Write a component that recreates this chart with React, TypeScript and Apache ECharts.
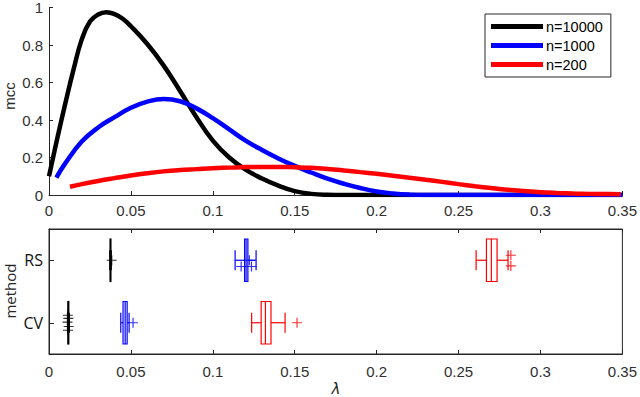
import React, { useEffect, useRef } from "react";
import * as echarts from "echarts";

// ---- data ----
const xTicks = [0, 0.05, 0.1, 0.15, 0.2, 0.25, 0.3, 0.35];
const seriesNames = ["n=10000", "n=1000", "n=200"];
const seriesColors = ["#000000", "#0000ff", "#ff0000"];

// mcc vs lambda curves [lambda, mcc]
const mcc10000 = [
  [0, 0.1], [0.005, 0.3], [0.01, 0.49], [0.015, 0.67], [0.02, 0.83], [0.025, 0.925],
  [0.03, 0.963], [0.035, 0.975], [0.04, 0.965], [0.045, 0.94], [0.05, 0.9], [0.06, 0.805],
  [0.07, 0.69], [0.08, 0.555], [0.09, 0.415], [0.1, 0.29], [0.11, 0.2], [0.12, 0.135],
  [0.13, 0.088], [0.14, 0.05], [0.15, 0.021], [0.16, 0.006], [0.17, 0.001], [0.18, 0],
  [0.22, 0], [0.28, 0], [0.35, 0],
];
const mcc1000 = [
  [0.0045, 0.093], [0.01, 0.17], [0.02, 0.285], [0.03, 0.36], [0.04, 0.415], [0.05, 0.465],
  [0.06, 0.498], [0.07, 0.512], [0.08, 0.5], [0.09, 0.462], [0.1, 0.41], [0.11, 0.35],
  [0.12, 0.29], [0.13, 0.24], [0.14, 0.195], [0.15, 0.155], [0.16, 0.12], [0.17, 0.087],
  [0.18, 0.06], [0.19, 0.037], [0.2, 0.019], [0.21, 0.008], [0.22, 0.002], [0.23, 0],
  [0.28, 0], [0.35, 0],
];
const mcc200 = [
  [0.0128, 0.044], [0.02, 0.058], [0.03, 0.075], [0.04, 0.09], [0.05, 0.104], [0.06, 0.116],
  [0.07, 0.126], [0.08, 0.133], [0.09, 0.138], [0.1, 0.143], [0.11, 0.146], [0.12, 0.149],
  [0.13, 0.15], [0.14, 0.15], [0.15, 0.148], [0.16, 0.145], [0.17, 0.139], [0.18, 0.131],
  [0.19, 0.122], [0.2, 0.113], [0.21, 0.103], [0.22, 0.092], [0.23, 0.081], [0.24, 0.07],
  [0.25, 0.058], [0.26, 0.047], [0.27, 0.037], [0.28, 0.028], [0.29, 0.021], [0.3, 0.015],
  [0.31, 0.011], [0.32, 0.008], [0.33, 0.006], [0.34, 0.005], [0.349, 0.004],
];

// method positions on the lower y axis
const methods = ["CV", "RS"];
const methodPos = [1, 2];

// box stats per method: [whiskerLow, q1, median, q3, whiskerHigh]
const box10000 = [
  [0.0113, 0.0115, 0.0118, 0.0121, 0.0124],
  [0.0371, 0.0373, 0.0375, 0.0378, 0.038],
];
const box1000 = [
  [0.0438, 0.0452, 0.0465, 0.0477, 0.0489],
  [0.1136, 0.1194, 0.1203, 0.1214, 0.1264],
];
const box200 = [
  [0.1237, 0.1295, 0.1321, 0.1355, 0.1441],
  [0.2607, 0.267, 0.27, 0.2735, 0.2802],
];

// outliers [lambda, method position (with jitter)]
const out10000 = [
  [0.0115, 1.12], [0.0118, 1.07], [0.0113, 1.01], [0.012, 0.94], [0.0116, 0.88], [0.0383, 2.0],
];
const out1000 = [
  [0.0513, 1.0], [0.1173, 1.9], [0.1223, 2.0], [0.1236, 1.9],
];
const out200 = [
  [0.1514, 1.0], [0.2819, 2.08], [0.2819, 1.91],
];

const FONT = "Liberation Sans";
const AXIS_COLOR = "#262626";

function boxRender(params: any, api: any) {
  const y = api.value(5);
  const color = api.visual("color");
  const c = (v: number) => api.coord([v, y]);
  const hh = api.size([0, 0.34])[1];
  const ch = api.size([0, 0.16])[1];
  const [xl, yc] = c(api.value(0));
  const [x1] = c(api.value(1));
  const [xm] = c(api.value(2));
  const [x3] = c(api.value(3));
  const [xh] = c(api.value(4));
  const st = { stroke: color, lineWidth: 1.2, fill: "none" };
  return {
    type: "group",
    children: [
      { type: "line", shape: { x1: xl, y1: yc, x2: x1, y2: yc }, style: st },
      { type: "line", shape: { x1: x3, y1: yc, x2: xh, y2: yc }, style: st },
      { type: "line", shape: { x1: xl, y1: yc - ch, x2: xl, y2: yc + ch }, style: st },
      { type: "line", shape: { x1: xh, y1: yc - ch, x2: xh, y2: yc + ch }, style: st },
      { type: "rect", shape: { x: x1, y: yc - hh, width: Math.max(x3 - x1, 0.5), height: 2 * hh }, style: st },
      { type: "line", shape: { x1: xm, y1: yc - hh, x2: xm, y2: yc + hh }, style: st },
    ],
  };
}

const boxData = (b: number[][]) => b.map((r, i) => [...r, methodPos[i]]);

export default function App() {
  const ref = useRef<HTMLDivElement>(null);
  useEffect(() => {
    if (!ref.current) return;
    const chart = echarts.init(ref.current, null, { renderer: "svg" });
    const axisLabel = { fontFamily: FONT, fontSize: 15, color: "#303030" };
    const lines = [mcc10000, mcc1000, mcc200];
    const boxes = [box10000, box1000, box200];
    const outs = [out10000, out1000, out200];
    const option: any = {
      animation: false,
      backgroundColor: "#ffffff",
      grid: [
        { left: 49, top: 5, width: 574, height: 190 },
        { left: 49, top: 229, width: 574, height: 125, show: true, borderColor: AXIS_COLOR, borderWidth: 1, backgroundColor: "transparent" },
      ],
      xAxis: [
        {
          type: "value", gridIndex: 0, min: 0, max: 0.35, interval: 0.05,
          axisLine: { lineStyle: { color: AXIS_COLOR } },
          axisTick: { inside: true, length: 4, lineStyle: { color: AXIS_COLOR } },
          axisLabel: { ...axisLabel, margin: 8 },
          splitLine: { show: false },
        },
        {
          type: "value", gridIndex: 1, min: 0, max: 0.35, interval: 0.05,
          axisLine: { lineStyle: { color: AXIS_COLOR } },
          axisTick: { inside: true, length: 4, lineStyle: { color: AXIS_COLOR } },
          axisLabel: { ...axisLabel, margin: 10 },
          splitLine: { show: false },
        },
        {
          type: "value", gridIndex: 1, position: "top", min: 0, max: 0.35, interval: 0.05,
          axisLine: { lineStyle: { color: AXIS_COLOR } },
          axisTick: { inside: true, length: 4, lineStyle: { color: AXIS_COLOR } },
          axisLabel: { show: false },
          splitLine: { show: false },
        },
      ],
      yAxis: [
        {
          type: "value", gridIndex: 0, min: 0, max: 1, interval: 0.2,
          axisLine: { show: true, lineStyle: { color: AXIS_COLOR } },
          axisTick: { show: true, inside: true, length: 4, lineStyle: { color: AXIS_COLOR } },
          axisLabel: { ...axisLabel, margin: 6 },
          splitLine: { show: false },
        },
        {
          type: "value", gridIndex: 1, min: 0.5, max: 2.5,
          axisLine: { show: true, lineStyle: { color: AXIS_COLOR } },
          axisTick: { show: true, inside: true, length: 5, customValues: methodPos, lineStyle: { color: AXIS_COLOR } },
          axisLabel: {
            customValues: methodPos,
            fontFamily: "Open Sans", fontSize: 16, color: "#111", margin: 6,
            formatter: (v: number) => methods[methodPos.indexOf(Math.round(v))] ?? "",
          },
          splitLine: { show: false },
        },
      ],
      legend: {
        data: seriesNames,
        orient: "vertical",
        left: 485,
        top: 14,
        icon: "rect",
        itemWidth: 52,
        itemHeight: 5,
        itemGap: 4,
        padding: [5, 8, 5, 6],
        borderColor: AXIS_COLOR,
        borderWidth: 1,
        backgroundColor: "#fff",
        textStyle: { fontFamily: FONT, fontSize: 14.5, color: "#000", padding: [0, 0, 0, -2] },
      },
      graphic: [
        { type: "text", x: 9, y: 96, rotation: Math.PI / 2, style: { text: "mcc", font: `15px "${FONT}"`, fill: AXIS_COLOR, align: "center", verticalAlign: "middle" } },
        { type: "text", x: 10, y: 291, rotation: Math.PI / 2, style: { text: "method", font: `15px "Open Sans"`, fill: AXIS_COLOR, align: "center", verticalAlign: "middle" } },
        { type: "text", x: 336, y: 389, style: { text: "λ", font: `italic 15px "DejaVu Sans"`, fill: AXIS_COLOR, align: "center", verticalAlign: "middle" } },
      ],
      series: [
        ...lines.map((d, i) => ({
          name: seriesNames[i], type: "line", xAxisIndex: 0, yAxisIndex: 0,
          data: d, smooth: 0.45, showSymbol: false, symbol: "none",
          lineStyle: { width: 4.5, color: seriesColors[i] }, itemStyle: { color: seriesColors[i] },
        })),
        ...boxes.map((b, i) => ({
          name: "box " + seriesNames[i], type: "custom", xAxisIndex: 1, yAxisIndex: 1,
          data: boxData(b), renderItem: boxRender, itemStyle: { color: seriesColors[i] },
          encode: { x: [0, 1, 2, 3, 4], y: 5 }, clip: false,
        })),
        ...outs.map((o, i) => ({
          name: "outliers " + seriesNames[i], type: "scatter", xAxisIndex: 1, yAxisIndex: 1,
          data: o, symbol: "path://M0,5L10,5M5,0L5,10", symbolSize: 10,
          itemStyle: { color: "none", borderColor: seriesColors[i], borderWidth: 1.2 },
        })),
      ],
    };
    chart.setOption(option);
    return () => chart.dispose();
  }, []);
  return <div ref={ref} style={{ position: "fixed", left: 0, top: 0, width: 640, height: 397, background: "#fff" }} />;
}
